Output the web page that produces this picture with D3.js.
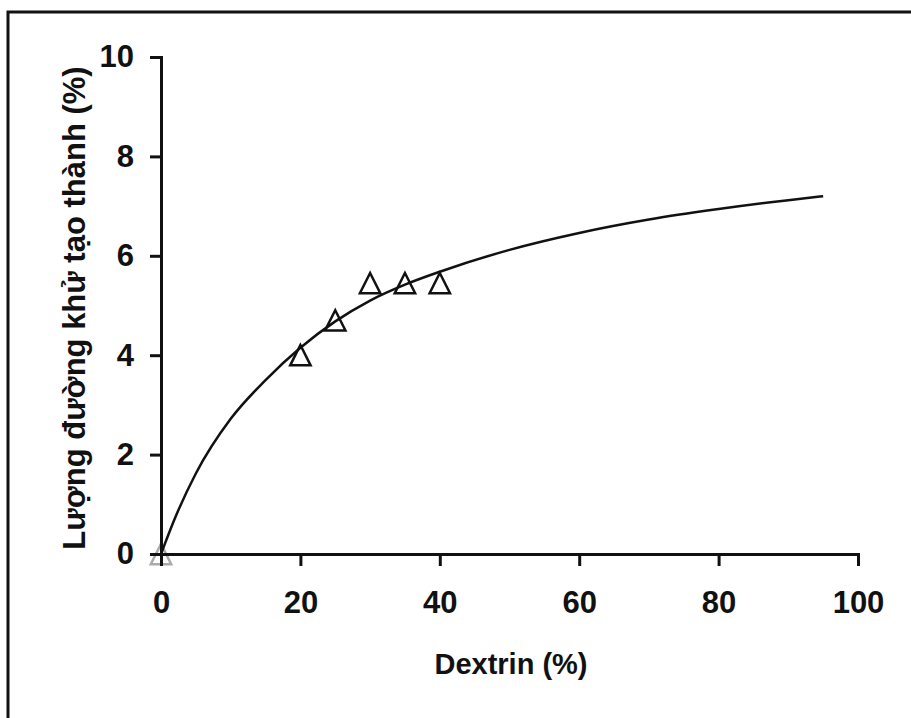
<!DOCTYPE html>
<html>
<head>
<meta charset="utf-8">
<script src="https://cdn.jsdelivr.net/npm/d3@7"></script>
<style>
html,body{margin:0;padding:0;background:#fff;}
svg{display:block;}
text{font-family:"Liberation Sans",Arial,sans-serif;font-weight:bold;fill:#111;}
</style>
</head>
<body>
<svg id="chart" width="911" height="718"></svg>
<script>
// Measured data points (triangles)
const pointX = [0, 20, 25, 30, 35, 40];
const pointY = [0, 4.0, 4.7, 5.45, 5.45, 5.45];
// Fitted curve
const curveX = [0, 2, 5, 10, 15, 20, 25, 30, 35, 40, 50, 60, 70, 80, 90, 95];
const curveY = [0, 0.72, 1.62, 2.72, 3.5, 4.15, 4.68, 5.1, 5.42, 5.68, 6.12, 6.46, 6.73, 6.94, 7.12, 7.2];
// Tick labels
const xTicks = [0, 20, 40, 60, 80, 100];
const yTicks = [0, 2, 4, 6, 8, 10];
const xTitle = "Dextrin (%)";
const yTitle = "Lượng đường khử tạo thành (%)";

const svg = d3.select("#chart");
const x = d3.scaleLinear().domain([0, 100]).range([161, 858]);
const y = d3.scaleLinear().domain([0, 10]).range([554, 57]);

// outer frame (right and bottom run off the picture)
svg.append("rect").attr("x", 8).attr("y", 12).attr("width", 920).attr("height", 720)
  .attr("fill", "none").attr("stroke", "#111").attr("stroke-width", 3);

// axes
const xAxis = d3.axisBottom(x).tickValues(xTicks).tickSize(12).tickPadding(25).tickSizeOuter(12);
const yAxis = d3.axisLeft(y).tickValues(yTicks).tickSize(11).tickPadding(16).tickSizeOuter(11);

const gx = svg.append("g").attr("transform", `translate(0,${y(0)})`).call(xAxis);
const gy = svg.append("g").attr("transform", `translate(${x(0)},0)`).call(yAxis);
[gx, gy].forEach(g => {
  g.selectAll("path.domain").attr("stroke", "#111").attr("stroke-width", 3);
  g.selectAll(".tick line").attr("stroke", "#111").attr("stroke-width", 3);
  g.selectAll(".tick text").style("font-size", "31px").style("font-weight", "bold")
    .style("font-family", "'Liberation Sans', Arial, sans-serif").attr("fill", "#111");
});

// curve
const line = d3.line().x((d, i) => x(curveX[i])).y((d, i) => y(curveY[i])).curve(d3.curveMonotoneX);
svg.append("path").datum(curveY).attr("d", line)
  .attr("fill", "none").attr("stroke", "#111").attr("stroke-width", 2.5);

// triangles (bounding box centred on the data point)
const triSize = 180;
const triH = Math.sqrt(triSize * 4 / Math.sqrt(3)) * Math.sqrt(3) / 2;
const tri = d3.symbol().type(d3.symbolTriangle).size(triSize);
svg.append("g").selectAll("path").data(pointY).join("path")
  .attr("d", tri)
  .attr("transform", (d, i) => `translate(${x(pointX[i])},${y(d) + triH * 1.15 / 6}) scale(1,1.15)`)
  .attr("fill", "none").attr("stroke", "#111").attr("stroke-width", 2.5)
  .attr("vector-effect", "non-scaling-stroke")
  .attr("opacity", (d, i) => i === 0 ? 0.35 : 1);

// titles
svg.append("text").attr("x", 511).attr("y", 674).attr("text-anchor", "middle")
  .style("font-size", "29px").text(xTitle);
svg.append("text").attr("transform", "translate(85,308) rotate(-90)").attr("text-anchor", "middle")
  .style("font-size", "31px").text(yTitle);
</script>
</body>
</html>
